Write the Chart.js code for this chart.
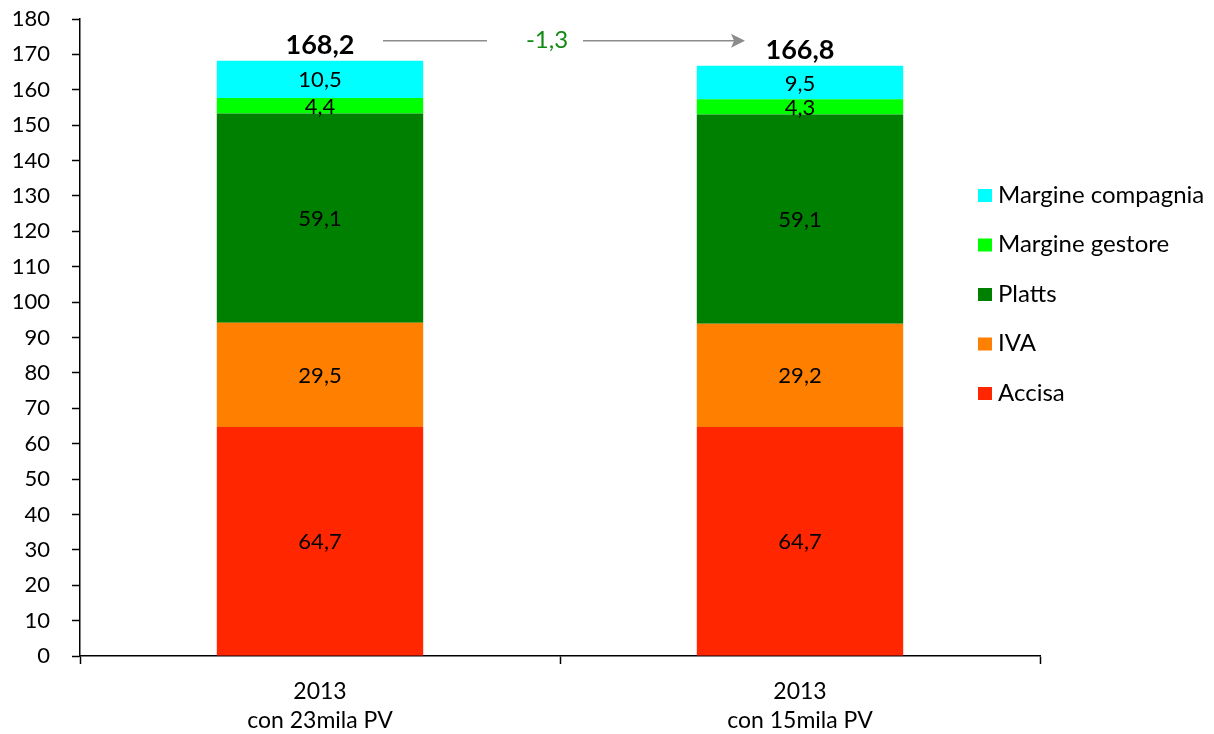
<!DOCTYPE html>
<html>
<head>
<meta charset="utf-8">
<script src="https://cdn.jsdelivr.net/npm/chart.js@4"></script>
<style>
  html, body { margin: 0; padding: 0; background: #fff; }
  #wrap { width: 1214px; height: 734px; }
</style>
</head>
<body>
<div id="wrap"><canvas id="chart" width="1214" height="734"></canvas></div>
<script>
const categories = [['2013', 'con 23mila PV'], ['2013', 'con 15mila PV']];
const accisa = [64.7, 64.7];
const iva = [29.5, 29.2];
const platts = [59.1, 59.1];
const margineGestore = [4.4, 4.3];
const margineCompagnia = [10.5, 9.5];
const totals = [168.2, 166.8];
const deltaLabel = '-1,3';

const FONT = 'Lato, "DejaVu Sans", sans-serif';

function fmt(v) {
    return v.toFixed(1).replace('.', ',');
}

// Value labels inside segments, totals above bars, arrow between totals
const labelsPlugin = {
    id: 'labels',
    afterDatasetsDraw(chart) {
        const ctx = chart.ctx;
        const x = chart.scales.x, y = chart.scales.y;
        ctx.save();
        ctx.textAlign = 'center';
        ctx.textBaseline = 'middle';
        ctx.fillStyle = '#000';
        ctx.font = '22px ' + FONT;
        chart.data.datasets.forEach((ds, i) => {
            chart.getDatasetMeta(i).data.forEach((bar, j) => {
                const mid = (bar.y + bar.base) / 2;
                ctx.fillText(fmt(ds.data[j]), bar.x, mid + 1);
            });
        });
        ctx.font = 'bold 27px ' + FONT;
        totals.forEach((t, j) => {
            ctx.fillText(fmt(t), x.getPixelForValue(j), y.getPixelForValue(t) - 15);
        });
        // arrow
        const ay = y.getPixelForValue(totals[0]) - 20;
        const x0 = x.getPixelForValue(0) + 63;
        const x1 = x.getPixelForValue(1) - 65;
        const cx = (x.getPixelForValue(0) + x.getPixelForValue(1)) / 2 - 13;
        ctx.strokeStyle = '#8c8c8c';
        ctx.lineWidth = 1.5;
        ctx.beginPath();
        ctx.moveTo(x0, ay); ctx.lineTo(cx - 60, ay);
        ctx.moveTo(cx + 36, ay); ctx.lineTo(x1, ay);
        ctx.stroke();
        ctx.fillStyle = '#8c8c8c';
        ctx.beginPath();
        ctx.moveTo(x1 + 10, ay);
        ctx.lineTo(x1 - 4, ay - 7);
        ctx.lineTo(x1 - 1, ay);
        ctx.lineTo(x1 - 4, ay + 7);
        ctx.closePath();
        ctx.fill();
        ctx.fillStyle = '#138a13';
        ctx.font = '24px ' + FONT;
        ctx.fillText(deltaLabel, cx, ay);
        ctx.restore();
    }
};

// Legend on the right, last series on top
const legendPlugin = {
    id: 'sideLegend',
    afterDraw(chart) {
        const ctx = chart.ctx;
        const items = chart.data.datasets.slice().reverse();
        ctx.save();
        ctx.font = '24px ' + FONT;
        ctx.textBaseline = 'middle';
        ctx.textAlign = 'left';
        items.forEach((ds, i) => {
            const yy = 195 + i * 49.5;
            ctx.fillStyle = ds.backgroundColor;
            ctx.fillRect(978, yy - 6, 14, 13);
            ctx.fillStyle = '#000';
            ctx.fillText(ds.label, 998, yy);
        });
        ctx.restore();
    }
};

const chart = new Chart(document.getElementById('chart').getContext('2d'), {
    type: 'bar',
    data: {
        labels: categories,
        datasets: [
            { label: 'Accisa', data: accisa, backgroundColor: '#ff2600' },
            { label: 'IVA', data: iva, backgroundColor: '#ff8000' },
            { label: 'Platts', data: platts, backgroundColor: '#008000' },
            { label: 'Margine gestore', data: margineGestore, backgroundColor: '#00ff00' },
            { label: 'Margine compagnia', data: margineCompagnia, backgroundColor: '#00ffff' }
        ]
    },
    options: {
        responsive: false,
        animation: false,
        layout: { padding: { top: 19, right: 174, left: 0, bottom: 0 } },
        datasets: { bar: { categoryPercentage: 1, barPercentage: 0.43, borderWidth: 0 } },
        plugins: {
            legend: { display: false },
            tooltip: { enabled: false }
        },
        scales: {
            x: {
                stacked: true,
                afterFit(scale) { scale.height = 78; },
                grid: { offset: true, drawOnChartArea: false, tickLength: 8, color: '#000', tickWidth: 1.5 },
                border: { color: '#000', width: 1.5 },
                ticks: { color: '#000', font: { family: FONT, size: 23, lineHeight: 1.26 }, padding: 13 }
            },
            y: {
                stacked: true,
                min: 0,
                max: 180,
                afterFit(scale) {
                    scale.width = 80;
                    scale.paddingTop = 0;
                    scale.paddingBottom = 0;
                },
                grid: { drawOnChartArea: false, tickLength: 8, color: '#000', tickWidth: 1.5 },
                border: { color: '#000', width: 1.5 },
                ticks: { stepSize: 10, color: '#000', font: { family: FONT, size: 22 }, padding: 22 }
            }
        }
    },
    plugins: [labelsPlugin, legendPlugin]
});
</script>
</body>
</html>
